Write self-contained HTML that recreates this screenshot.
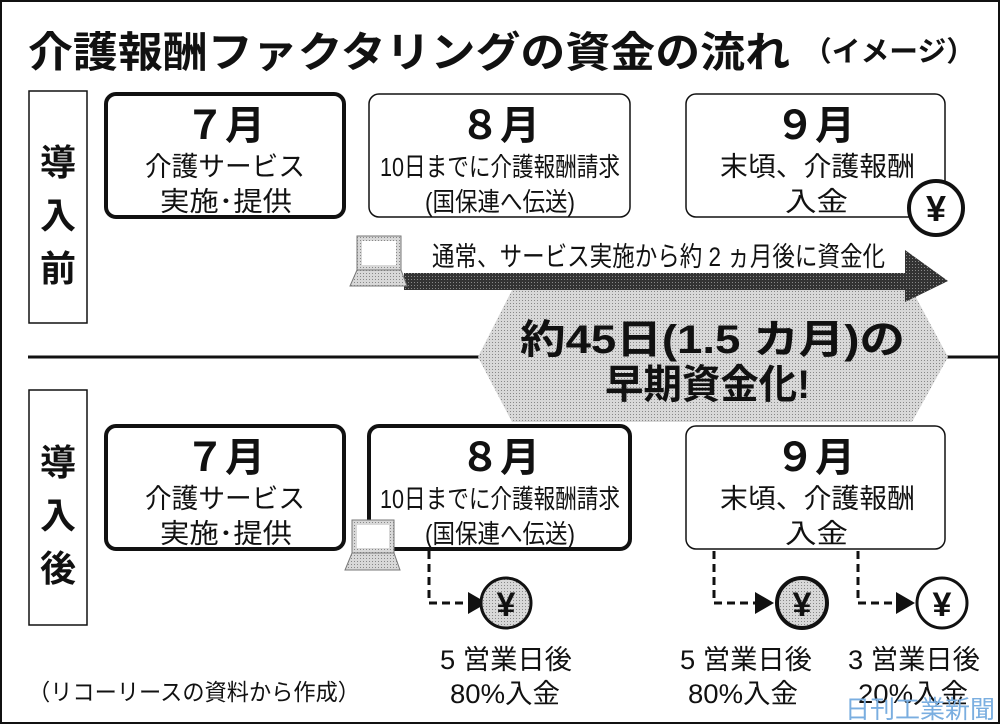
<!DOCTYPE html>
<html><head><meta charset="utf-8"><style>
html,body{margin:0;padding:0;background:#fff;}
svg{display:block;}
text{font-family:"Liberation Sans","Noto Sans CJK JP",sans-serif;fill:#111;}
.b{font-weight:bold;}
</style></head><body>
<svg width="1000" height="724" viewBox="0 0 1000 724" xmlns="http://www.w3.org/2000/svg">
<defs>
<pattern id="dot" width="3" height="3" patternUnits="userSpaceOnUse">
<rect width="3" height="3" fill="#d8d8d8"/><rect width="1" height="1" fill="#888"/>
</pattern>
<pattern id="dk" width="3" height="3" patternUnits="userSpaceOnUse">
<rect width="3" height="3" fill="#333"/><rect width="1" height="1" fill="#888"/>
</pattern>
</defs>
<rect x="1" y="1" width="998" height="722" fill="#fff" stroke="#111" stroke-width="2"/>
<text x="28" y="67" font-size="42" class="b" textLength="762" lengthAdjust="spacingAndGlyphs">介護報酬ファクタリングの資金の流れ</text>
<text x="803" y="61" font-size="28" class="b" textLength="172" lengthAdjust="spacingAndGlyphs">（イメージ）</text>

<rect x="29" y="91" width="58" height="232" fill="#fff" stroke="#111" stroke-width="1.5"/>
<g font-size="36" class="b" text-anchor="middle">
<text x="58" y="175">導</text><text x="58" y="228">入</text><text x="58" y="281">前</text>
</g>
<rect x="29" y="390" width="58" height="235" fill="#fff" stroke="#111" stroke-width="1.5"/>
<g font-size="36" class="b" text-anchor="middle">
<text x="58" y="475">導</text><text x="58" y="528">入</text><text x="58" y="581">後</text>
</g>

<line x1="28" y1="357" x2="480" y2="357" stroke="#111" stroke-width="3"/>
<line x1="946" y1="357" x2="1000" y2="357" stroke="#111" stroke-width="3"/>

<polygon points="478,357 512,290 912,290 948,357 912,422 512,422" fill="url(#dot)"/>
<text x="520" y="353" font-size="40" class="b" textLength="385" lengthAdjust="spacingAndGlyphs">約45日(1.5 カ月)の</text>
<text x="605" y="398" font-size="40" class="b" textLength="205" lengthAdjust="spacingAndGlyphs">早期資金化!</text>

<rect x="106" y="94" width="238" height="123" rx="10" fill="#fff" stroke="#111" stroke-width="4"/>
<rect x="369" y="94" width="261" height="123" rx="10" fill="#fff" stroke="#111" stroke-width="1.5"/>
<rect x="686" y="94" width="259" height="123" rx="10" fill="#fff" stroke="#111" stroke-width="1.5"/>
<g text-anchor="middle">
<text x="225" y="139" font-size="40" class="b">７月</text>
<text x="500" y="139" font-size="40" class="b">８月</text>
<text x="815" y="139" font-size="40" class="b">９月</text>
</g>
<text x="145" y="176" font-size="27" textLength="160" lengthAdjust="spacingAndGlyphs">介護サービス</text>
<text x="160" y="211" font-size="27" textLength="132" lengthAdjust="spacingAndGlyphs">実施･提供</text>
<text x="380" y="176" font-size="26" textLength="240" lengthAdjust="spacingAndGlyphs">10日までに介護報酬請求</text>
<text x="425" y="211" font-size="26" textLength="150" lengthAdjust="spacingAndGlyphs">(国保連へ伝送)</text>
<text x="720" y="176" font-size="27" textLength="195" lengthAdjust="spacingAndGlyphs">末頃、介護報酬</text>
<text x="785" y="211" font-size="27" textLength="63" lengthAdjust="spacingAndGlyphs">入金</text>
<circle cx="936" cy="208" r="27" fill="#fff" stroke="#111" stroke-width="4"/>
<text x="936" y="221" font-size="36" class="b" text-anchor="middle">¥</text>

<rect x="404" y="273" width="505" height="17" fill="url(#dk)"/>
<polygon points="905,250 948,281 905,302" fill="url(#dk)"/>
<text x="432" y="266" font-size="27" textLength="453" lengthAdjust="spacingAndGlyphs">通常、サービス実施から約 2 ヵ月後に資金化</text>
<rect x="357" y="236" width="44" height="34" fill="url(#dot)" stroke="#777" stroke-width="1"/>
<rect x="362" y="241" width="34" height="24" fill="#fff"/>
<polygon points="357,270 401,270 407,286 350,286" fill="url(#dot)" stroke="#777" stroke-width="1"/>

<rect x="106" y="426" width="238" height="123" rx="10" fill="#fff" stroke="#111" stroke-width="4"/>
<rect x="369" y="426" width="261" height="123" rx="10" fill="#fff" stroke="#111" stroke-width="4"/>
<rect x="686" y="426" width="259" height="123" rx="10" fill="#fff" stroke="#111" stroke-width="1.5"/>
<g text-anchor="middle">
<text x="225" y="471" font-size="40" class="b">７月</text>
<text x="500" y="471" font-size="40" class="b">８月</text>
<text x="815" y="471" font-size="40" class="b">９月</text>
</g>
<text x="145" y="508" font-size="27" textLength="160" lengthAdjust="spacingAndGlyphs">介護サービス</text>
<text x="160" y="543" font-size="27" textLength="132" lengthAdjust="spacingAndGlyphs">実施･提供</text>
<text x="380" y="508" font-size="26" textLength="240" lengthAdjust="spacingAndGlyphs">10日までに介護報酬請求</text>
<text x="425" y="543" font-size="26" textLength="150" lengthAdjust="spacingAndGlyphs">(国保連へ伝送)</text>
<text x="720" y="508" font-size="27" textLength="195" lengthAdjust="spacingAndGlyphs">末頃、介護報酬</text>
<text x="785" y="543" font-size="27" textLength="63" lengthAdjust="spacingAndGlyphs">入金</text>
<rect x="352" y="520" width="42" height="33" fill="url(#dot)" stroke="#777" stroke-width="1"/>
<rect x="357" y="525" width="32" height="23" fill="#fff"/>
<polygon points="352,553 394,553 400,570 345,570" fill="url(#dot)" stroke="#777" stroke-width="1"/>

<g stroke="#111" stroke-width="3" fill="none" stroke-dasharray="8,5">
<polyline points="429,551 429,603 470,603"/>
<polyline points="714,551 714,603 757,603"/>
<polyline points="858,551 858,603 898,603"/>
</g>
<polygon points="468,592 487,603 468,614" fill="#111"/>
<polygon points="755,592 774,603 755,614" fill="#111"/>
<polygon points="896,592 915,603 896,614" fill="#111"/>
<circle cx="506" cy="603" r="25" fill="url(#dot)" stroke="#111" stroke-width="3"/>
<circle cx="802" cy="603" r="25" fill="url(#dot)" stroke="#111" stroke-width="4"/>
<circle cx="942" cy="603" r="25" fill="#fff" stroke="#111" stroke-width="3"/>
<g font-size="34" class="b" text-anchor="middle">
<text x="506" y="616">¥</text><text x="802" y="616">¥</text><text x="942" y="616">¥</text>
</g>

<g font-size="27">
<text x="440" y="669" textLength="132" lengthAdjust="spacingAndGlyphs">5 営業日後</text>
<text x="450" y="703" textLength="110" lengthAdjust="spacingAndGlyphs">80%入金</text>
<text x="680" y="669" textLength="132" lengthAdjust="spacingAndGlyphs">5 営業日後</text>
<text x="688" y="703" textLength="110" lengthAdjust="spacingAndGlyphs">80%入金</text>
<text x="848" y="669" textLength="132" lengthAdjust="spacingAndGlyphs">3 営業日後</text>
<text x="858" y="703" textLength="110" lengthAdjust="spacingAndGlyphs">20%入金</text>
</g>
<text x="28" y="700" font-size="23" textLength="332" lengthAdjust="spacingAndGlyphs">（リコーリースの資料から作成）</text>
<text x="845" y="718" font-size="25" textLength="150" lengthAdjust="spacingAndGlyphs" style="fill:#7aaee0">日刊工業新聞</text>
</svg>
</body></html>
